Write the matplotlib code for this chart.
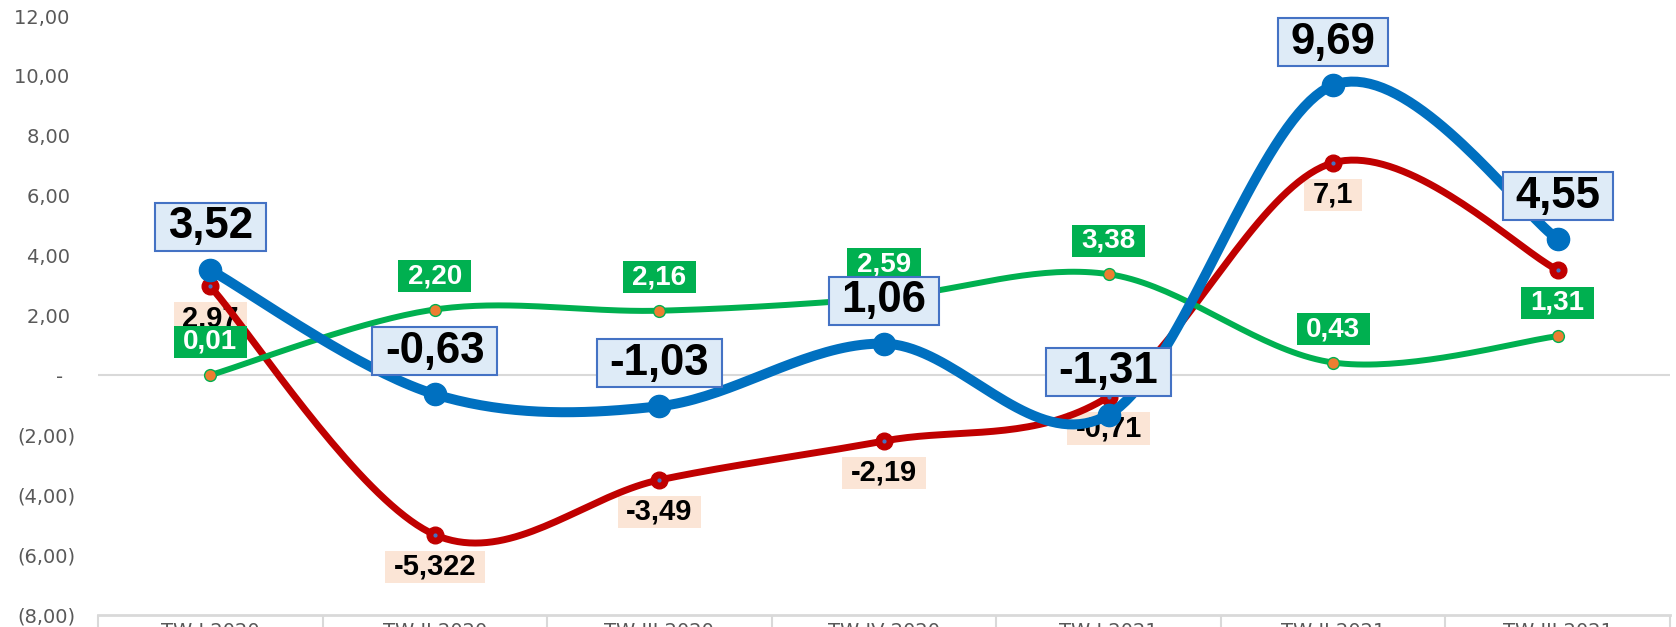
import numpy as np
import matplotlib.pyplot as plt
from matplotlib.path import Path

# Datos
trimestres = ['TW I 2020', 'TW II 2020', 'TW III 2020', 'TW IV 2020',
              'TW I 2021', 'TW II 2021', 'TW III 2021']
azul = [3.52, -0.63, -1.03, 1.06, -1.31, 9.69, 4.55]
rojo = [2.97, -5.322, -3.49, -2.19, -0.71, 7.1, 3.52]
verde = [0.01, 2.20, 2.16, 2.59, 3.38, 0.43, 1.31]
etiquetas_azul = ['3,52', '-0,63', '-1,03', '1,06', '-1,31', '9,69', '4,55']
etiquetas_rojo = ['2,97', '-5,322', '-3,49', '-2,19', '-0,71', '7,1', '']
etiquetas_verde = ['0,01', '2,20', '2,16', '2,59', '3,38', '0,43', '1,31']
yticks = [12, 10, 8, 6, 4, 2, 0, -2, -4, -6, -8]
yticklabels = ['12,00 ', '10,00 ', '8,00 ', '6,00 ', '4,00 ', '2,00 ', '-  ',
               '(2,00)', '(4,00)', '(6,00)', '(8,00)']

AZUL = '#0070C0'
ROJO = '#C00000'
VERDE = '#00B050'
NARANJA = '#ED7D31'
GRIS = '#D9D9D9'


def suave(y, n=40):
    # curva suavizada tipo Excel (Bezier con tension 1/6)
    x = np.arange(len(y), dtype=float)
    p = np.column_stack([x, np.asarray(y, dtype=float)])
    xs, ys = [], []
    t = np.linspace(0, 1, n)
    for i in range(len(p) - 1):
        p0 = p[max(i - 1, 0)]
        p1 = p[i]
        p2 = p[i + 1]
        p3 = p[min(i + 2, len(p) - 1)]
        c1 = p1 + (p2 - p0) / 6
        c2 = p2 - (p3 - p1) / 6
        b = ((1 - t) ** 3)[:, None] * p1 + (3 * (1 - t) ** 2 * t)[:, None] * c1 \
            + (3 * (1 - t) * t ** 2)[:, None] * c2 + (t ** 3)[:, None] * p2
        xs.extend(b[:, 0])
        ys.extend(b[:, 1])
    return np.array(xs), np.array(ys)


def caja(px, py):
    # rectangulo con relleno horizontal y vertical distintos
    def estilo(x0, y0, width, height, mutation_size):
        dx = px * mutation_size
        dy = py * mutation_size
        return Path([(x0 - dx, y0 - dy), (x0 + width + dx, y0 - dy),
                     (x0 + width + dx, y0 + height + dy), (x0 - dx, y0 + height + dy),
                     (x0 - dx, y0 - dy)], closed=True)
    return estilo


fig = plt.figure(figsize=(16.76, 6.27), dpi=100)
ax = fig.add_axes([98 / 1676, 12 / 627, 1572 / 1676, 599 / 627])
x = np.arange(len(trimestres))

ax.axhline(0, color=GRIS, lw=1.5, zorder=1)

# Rojo
xs, ys = suave(rojo)
ax.plot(xs, ys, color=ROJO, lw=5, zorder=3, solid_capstyle='round')
ax.plot(x, rojo, 'o', color=ROJO, ms=12, zorder=3.1)
ax.plot(x, rojo, 'o', color='#4472C4', ms=2, zorder=3.2)

# Verde
xs, ys = suave(verde)
ax.plot(xs, ys, color=VERDE, lw=4.3, zorder=4, solid_capstyle='round')
ax.plot(x, verde, 'o', mfc=NARANJA, mec=VERDE, mew=1, ms=8.5, zorder=4.1)

# Azul
xs, ys = suave(azul)
ax.plot(xs, ys, color=AZUL, lw=7.2, zorder=5, solid_capstyle='round')
ax.plot(x, azul, 'o', color=AZUL, ms=16, zorder=5.1)

for xi, yi, s in zip(x, rojo, etiquetas_rojo):
    if s:
        ax.annotate(s, (xi, yi), xytext=(0, -23), textcoords='offset points',
                    ha='center', va='center', fontsize=21, fontweight='bold',
                    family='Liberation Sans', color='black', zorder=2.5,
                    bbox=dict(boxstyle=caja(0.29, 0.075), fc='#FBE5D6', ec='none'))

for xi, yi, s in zip(x, verde, etiquetas_verde):
    ax.annotate(s, (xi, yi), xytext=(0, 24), textcoords='offset points',
                ha='center', va='center', fontsize=20, fontweight='bold',
                family='Liberation Sans', color='white', zorder=6,
                bbox=dict(boxstyle=caja(0.34, 0.11), fc=VERDE, ec='none'))

for xi, yi, s in zip(x, azul, etiquetas_azul):
    ax.annotate(s, (xi, yi), xytext=(0, 31), textcoords='offset points',
                ha='center', va='center', fontsize=31.5, fontweight='bold',
                family='Liberation Sans', color='black', zorder=7,
                bbox=dict(boxstyle=caja(0.29, 0.08), fc='#DEEBF7', ec='#4472C4', lw=1.5))

ax.set_xlim(-0.5, len(trimestres) - 0.5)
ax.set_ylim(-8, 12)
ax.set_yticks(yticks)
ax.set_yticklabels(yticklabels, fontsize=14, color='#595959')
ax.tick_params(axis='y', length=0, pad=16)
ax.set_xticks(x)
ax.set_xticklabels(trimestres, fontsize=14, color='#595959')
ax.set_xticks(np.arange(-0.5, len(trimestres)), minor=True)
ax.tick_params(axis='x', which='major', length=0, pad=5)
ax.tick_params(axis='x', which='minor', length=30, color=GRIS, width=1.5)

for lado in ['left', 'right', 'top']:
    ax.spines[lado].set_visible(False)
ax.spines['bottom'].set_color(GRIS)
ax.spines['bottom'].set_linewidth(2)

fig.savefig('out.png', dpi=100)
